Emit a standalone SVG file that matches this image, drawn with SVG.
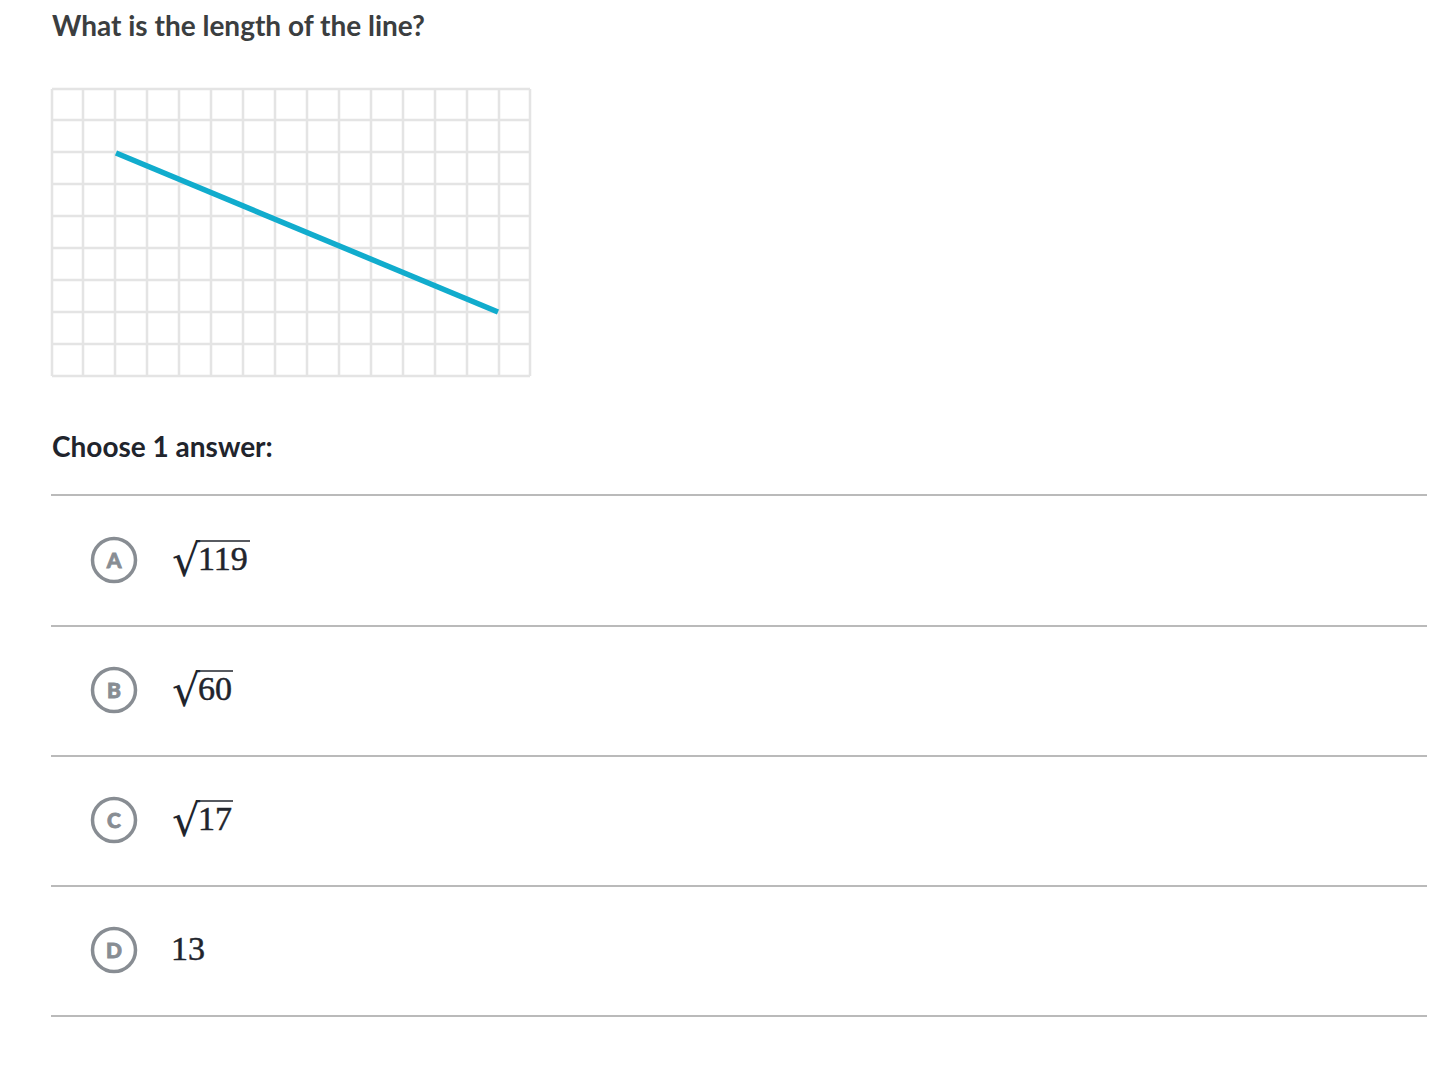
<svg xmlns="http://www.w3.org/2000/svg" width="1456" height="1065" viewBox="0 0 1456 1065">
<style>
.h{font-family:Lato,"Liberation Sans",sans-serif;font-weight:700;font-size:28px}
.grid line{stroke:#e4e4e4;stroke-width:2.5}
.sep{stroke:#bababa;stroke-width:2}
.circ{fill:#fff;stroke:#888d93;stroke-width:3.5}
.let{font-family:Lato,"Liberation Sans",sans-serif;font-weight:900;font-size:21px;fill:#888d93;stroke:#888d93;stroke-width:0.8;text-anchor:middle}
.m{font-family:"Liberation Serif","DejaVu Serif",serif;font-size:34px;fill:#21242c;stroke:#21242c;stroke-width:0.5}
.rad{font-family:"DejaVu Serif","Liberation Serif",serif;font-size:44px;fill:#21242c}
.vin{stroke:#21242c;stroke-width:1.6}
</style>
<rect width="1456" height="1065" fill="#fff"/>
<text class="h" x="52" y="36" fill="#3b3e40">What is the length of the line?</text>
<g id="grid" class="grid">
<line x1="52" y1="89" x2="52" y2="376"/><line x1="83" y1="89" x2="83" y2="376"/><line x1="115" y1="89" x2="115" y2="376"/><line x1="147" y1="89" x2="147" y2="376"/><line x1="179" y1="89" x2="179" y2="376"/><line x1="211" y1="89" x2="211" y2="376"/><line x1="243" y1="89" x2="243" y2="376"/><line x1="275" y1="89" x2="275" y2="376"/><line x1="307" y1="89" x2="307" y2="376"/><line x1="339" y1="89" x2="339" y2="376"/><line x1="371" y1="89" x2="371" y2="376"/><line x1="403" y1="89" x2="403" y2="376"/><line x1="435" y1="89" x2="435" y2="376"/><line x1="467" y1="89" x2="467" y2="376"/><line x1="499" y1="89" x2="499" y2="376"/><line x1="530" y1="89" x2="530" y2="376"/>
<line x1="52" y1="89" x2="530" y2="89"/><line x1="52" y1="120" x2="530" y2="120"/><line x1="52" y1="152" x2="530" y2="152"/><line x1="52" y1="184" x2="530" y2="184"/><line x1="52" y1="216" x2="530" y2="216"/><line x1="52" y1="248" x2="530" y2="248"/><line x1="52" y1="280" x2="530" y2="280"/><line x1="52" y1="312" x2="530" y2="312"/><line x1="52" y1="344" x2="530" y2="344"/><line x1="52" y1="376" x2="530" y2="376"/>
</g>
<line id="segment" x1="116" y1="153" x2="498" y2="312" stroke="#11accd" stroke-width="5.5" stroke-linecap="butt"/>
<text class="h" x="52" y="457" fill="#21242c">Choose 1 answer:</text>
<g id="separators">
<line class="sep" x1="51" y1="495" x2="1427" y2="495"/>
<line class="sep" x1="51" y1="626" x2="1427" y2="626"/>
<line class="sep" x1="51" y1="756" x2="1427" y2="756"/>
<line class="sep" x1="51" y1="886" x2="1427" y2="886"/>
<line class="sep" x1="51" y1="1016" x2="1427" y2="1016"/>
</g>
<g id="optA">
<circle class="circ" cx="114" cy="560" r="21.5"/><text class="let" x="114" y="567.5">A</text>
<text class="rad" x="172" y="576">√</text><line class="vin" x1="196" y1="541" x2="250" y2="541"/>
<text class="m" x="198" y="570">119</text>
</g>
<g id="optB">
<circle class="circ" cx="114" cy="690" r="21.5"/><text class="let" x="114" y="697.5">B</text>
<text class="rad" x="172" y="706">√</text><line class="vin" x1="196" y1="671" x2="233" y2="671"/>
<text class="m" x="198" y="700">60</text>
</g>
<g id="optC">
<circle class="circ" cx="114" cy="820" r="21.5"/><text class="let" x="114" y="827.5">C</text>
<text class="rad" x="172" y="836">√</text><line class="vin" x1="196" y1="801" x2="233" y2="801"/>
<text class="m" x="198" y="830">17</text>
</g>
<g id="optD">
<circle class="circ" cx="114" cy="950" r="21.5"/><text class="let" x="114" y="957.5">D</text>
<text class="m" x="171" y="960">13</text>
</g>
</svg>
